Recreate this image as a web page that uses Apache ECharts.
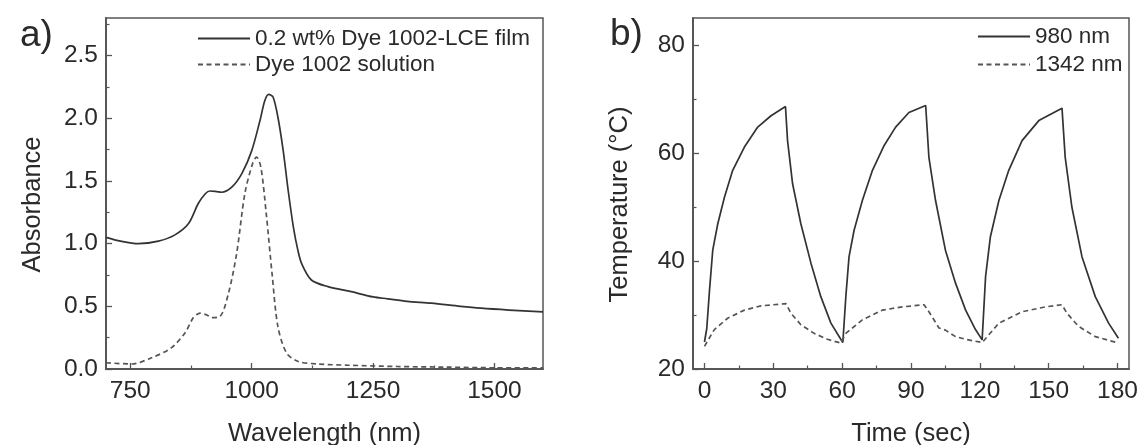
<!DOCTYPE html>
<html><head><meta charset="utf-8">
<script src="https://cdn.jsdelivr.net/npm/echarts@6/dist/echarts.min.js"></script>
<style>html,body{margin:0;padding:0;background:#fff}#c{width:1142px;height:445px}</style>
</head><body><div id="c"></div>
<script>
// Panel a: absorbance spectra
const wlFilm  = [700, 730, 767, 808, 842, 870, 890, 905, 914, 928, 938, 959, 980, 1000, 1017, 1027, 1035, 1044, 1054, 1065, 1075, 1086, 1095, 1103, 1123, 1157, 1205, 1250, 1280, 1320, 1370, 1430, 1472, 1530, 1600];
const absFilm = [1.05, 1.02, 1.00, 1.02, 1.07, 1.16, 1.32, 1.40, 1.42, 1.415, 1.41, 1.45, 1.56, 1.74, 1.98, 2.14, 2.19, 2.17, 2.01, 1.74, 1.43, 1.13, 0.95, 0.84, 0.71, 0.657, 0.617, 0.575, 0.56, 0.54, 0.525, 0.50, 0.485, 0.47, 0.455];
const wlSol   = [700, 753, 794, 835, 863, 880, 894, 908, 918, 935, 952, 969, 986, 1002, 1010, 1019, 1030, 1042, 1054, 1072, 1096, 1137, 1200, 1300, 1400, 1500, 1600];
const absSol  = [0.05, 0.04, 0.09, 0.17, 0.29, 0.41, 0.445, 0.43, 0.41, 0.42, 0.60, 0.92, 1.40, 1.64, 1.69, 1.61, 1.24, 0.76, 0.34, 0.127, 0.06, 0.04, 0.03, 0.02, 0.015, 0.01, 0.01];

// Panel b: temperature vs time
const t980 = [0, 1.0, 2.2, 3.6, 5.8, 8.7, 12.3, 17.4, 23.2, 29, 35.3, 36.2, 38.4, 42, 46.4, 50.7, 55.1, 59.4, 60.3,
              61.6, 63, 65.2, 68.8, 73.2, 78.3, 83.3, 89.1, 96.4, 97.8, 100.7, 105, 109.4, 113.8, 118.1, 121,
              122.5, 124.6, 128.3, 132.6, 138.4, 145.7, 155.8, 157.2, 160.1, 164.5, 170.3, 176.1, 180.4];
const T980 = [25.0, 27.5, 34.6, 42.0, 46.9, 51.8, 56.8, 61.1, 64.8, 66.9, 68.6, 62.3, 54.3, 46.9, 39.6, 33.4, 28.5, 25.5, 24.9,
              33.4, 40.8, 45.7, 51.2, 56.8, 61.4, 64.8, 67.5, 68.8, 59.2, 51.2, 42.0, 35.9, 30.9, 27.3, 25.4,
              37.1, 44.5, 51.2, 56.8, 62.3, 66.0, 68.3, 59.2, 50.0, 40.8, 33.4, 28.5, 25.7];
const t1342 = [0, 4.3, 10.1, 17.4, 24.6, 35.5, 37.7, 42, 47.8, 53.6, 59.4,
               61.6, 68.8, 77.5, 86.2, 95.7, 97.8, 102.2, 105, 109.4, 113.8, 121,
               128.3, 138.4, 148.5, 155.8, 158, 163, 170.3, 180.4];
const T1342 = [24.2, 27.3, 29.4, 30.9, 31.7, 32.1, 30.3, 28.2, 26.6, 25.5, 24.8,
               26.6, 29.1, 30.9, 31.5, 31.9, 30.6, 27.6, 27.2, 26.0, 25.5, 24.9,
               28.5, 30.6, 31.5, 31.9, 30.3, 27.9, 26.0, 24.8];

// Tick values
const xTicksA = [750, 1000, 1250, 1500];
const xMinorA = [875, 1125, 1375];
const yTicksA = [0, 0.5, 1.0, 1.5, 2.0, 2.5];
const yMinorA = [0.25, 0.75, 1.25, 1.75, 2.25, 2.75];
const xTicksB = [0, 30, 60, 90, 120, 150, 180];
const xMinorB = [15, 45, 75, 105, 135, 165];
const yTicksB = [20, 40, 60, 80];
const yMinorB = [30, 50, 70];

const nameFilm = '0.2 wt% Dye 1002-LCE film';
const nameSol = 'Dye 1002 solution';
const name980 = '980 nm';
const name1342 = '1342 nm';

const FONT = "'Liberation Sans', Arial, sans-serif";
const TXT = '#2a2a2a';
const AX = '#555';
const pairs = (xs, ys) => xs.map((x, i) => [x, ys[i]]);
const nameStyle = { fontSize: 25.5, color: TXT, fontFamily: FONT };

function majorAxis(grid, min, max, ticks, pos, margin, fmt, name, gap, pad) {
  return {
    gridIndex: grid, type: 'value', min, max, position: pos,
    axisLine: { show: true, onZero: false, lineStyle: { color: AX, width: 1.5 } },
    axisTick: { show: true, inside: true, length: 6, customValues: ticks, lineStyle: { color: AX, width: 1.3 } },
    axisLabel: { show: true, customValues: ticks, fontSize: 24.5, color: TXT, fontFamily: FONT, margin, formatter: fmt },
    splitLine: { show: false },
    name, nameLocation: 'middle', nameGap: gap,
    nameTextStyle: Object.assign({ padding: pad }, nameStyle)
  };
}
function minorAxis(grid, min, max, ticks, pos) {
  return {
    gridIndex: grid, type: 'value', min, max, position: pos,
    axisLine: { show: true, onZero: false, lineStyle: { color: AX, width: 1.5 } },
    axisTick: { show: true, inside: true, length: 3.5, customValues: ticks, lineStyle: { color: AX, width: 1.2 } },
    axisLabel: { show: false },
    splitLine: { show: false }
  };
}

const legendBase = (name, left, top) => ({
  data: [name], left, top, padding: 0, itemWidth: 52, itemHeight: 14,
  itemStyle: { opacity: 0 }, textStyle: { fontSize: 22.5, color: TXT, fontFamily: FONT }
});

const gridBase = (left) => ({
  left, top: 18, width: 437, height: 351, show: true, borderColor: AX, borderWidth: 1.5,
  backgroundColor: 'transparent', containLabel: false, outerBoundsMode: 'none'
});

const option = {
  backgroundColor: '#fff',
  animation: false,
  textStyle: { fontFamily: FONT },
  graphic: [
    { type: 'text', left: 20, top: 17, style: { text: 'a)', font: "37px 'Liberation Sans', Arial, sans-serif", fill: TXT } },
    { type: 'text', left: 610, top: 16, style: { text: 'b)', font: "37px 'Liberation Sans', Arial, sans-serif", fill: TXT } }
  ],
  grid: [gridBase(106), Object.assign(gridBase(693), { width: 436 })],
  xAxis: [
    majorAxis(0, 700, 1600, xTicksA, 'bottom', 10, v => String(v), 'Wavelength (nm)', 51.5, 0),
    minorAxis(0, 700, 1600, xMinorA, 'bottom'),
    majorAxis(1, -5, 185, xTicksB, 'bottom', 10, v => String(v), 'Time (sec)', 51.5, 0),
    minorAxis(1, -5, 185, xMinorB, 'bottom')
  ],
  yAxis: [
    majorAxis(0, 0, 2.8, yTicksA, 'left', 8, v => Number(v).toFixed(1), 'Absorbance', 60, [0, 22, 0, 0]),
    minorAxis(0, 0, 2.8, yMinorA, 'left'),
    majorAxis(1, 20, 85, yTicksB, 'left', 8, v => String(v), 'Temperature (°C)', 60, [0, 22, 0, 0]),
    minorAxis(1, 20, 85, yMinorB, 'left')
  ],
  legend: [
    legendBase(nameFilm, 197, 27),
    legendBase(nameSol, 197, 53),
    legendBase(name980, 977, 25),
    legendBase(name1342, 977, 53)
  ],
  series: [
    { name: nameFilm, type: 'line', xAxisIndex: 0, yAxisIndex: 0, data: pairs(wlFilm, absFilm), symbol: 'none', smooth: 0.3, lineStyle: { color: '#333', width: 1.7 }, itemStyle: { color: '#333' } },
    { name: nameSol, type: 'line', xAxisIndex: 0, yAxisIndex: 0, data: pairs(wlSol, absSol), symbol: 'none', smooth: 0.3, lineStyle: { color: '#555', width: 1.7, type: [5, 3.5] }, itemStyle: { color: '#555' } },
    { name: name980, type: 'line', xAxisIndex: 2, yAxisIndex: 2, data: pairs(t980, T980), symbol: 'none', smooth: false, lineStyle: { color: '#333', width: 1.7 }, itemStyle: { color: '#333' } },
    { name: name1342, type: 'line', xAxisIndex: 2, yAxisIndex: 2, data: pairs(t1342, T1342), symbol: 'none', smooth: false, lineStyle: { color: '#555', width: 1.7, type: [5, 3.5] }, itemStyle: { color: '#555' } }
  ]
};
const chart = echarts.init(document.getElementById('c'), null, { renderer: 'canvas' });
chart.setOption(option);
</script>
</body></html>
